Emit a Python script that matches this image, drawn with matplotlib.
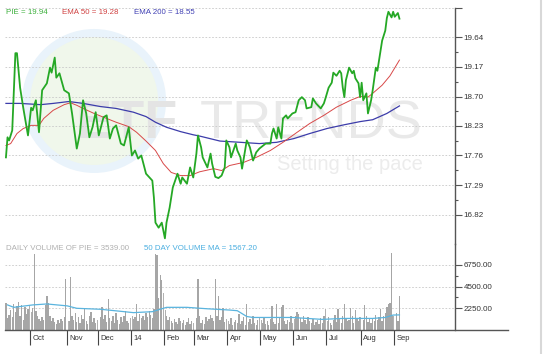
#!/usr/bin/env python3
# -*- coding: utf-8 -*-

import numpy as np
import pandas as pd
import matplotlib
matplotlib.use('Agg')
import matplotlib.pyplot as plt
import matplotlib.transforms as mtransforms
from matplotlib.patches import Ellipse
from matplotlib.lines import Line2D

plt.rcParams['font.family'] = ['Liberation Sans', 'DejaVu Sans']

# Trading calendar (NYSE sessions, Sep 2013 - Sep 2014)
first_session = '2013-09-09'
last_session = '2014-09-05'
holidays = ['2013-11-28', '2013-12-25', '2014-01-01', '2014-01-20', '2014-02-17',
            '2014-04-18', '2014-05-26', '2014-07-04', '2014-09-01']
month_labels = ['Oct', 'Nov', 'Dec', '14', 'Feb', 'Mar', 'Apr', 'May', 'Jun', 'Jul', 'Aug', 'Sep']

# PIE close (session index, price)
price_idx = [0, 1, 2, 4, 6, 7, 9, 11, 14, 16, 17, 19, 21, 23, 26, 28, 29, 31, 32, 34,
             37, 40, 42, 45, 47, 49, 51, 53, 55, 57, 59, 62, 64, 66, 68, 70, 73, 75, 78, 80,
             82, 84, 86, 89, 93, 94, 95, 97, 99, 101, 102, 104, 106, 109, 111, 112, 115, 117, 119, 121,
             122, 124, 125, 128, 130, 131, 133, 135, 137, 139, 140, 142, 143, 146, 147, 149, 150, 153, 154, 155,
             157, 159, 161, 165, 168, 169, 170, 172, 173, 175, 176, 178, 179, 182, 184, 186, 188, 190, 191, 194,
             195, 197, 200, 202, 203, 205, 207, 208, 210, 212, 213, 214, 215, 216, 218, 220, 221, 222, 224, 225,
             226, 227, 229, 230, 232, 233, 235, 236, 238, 239, 241, 242, 243, 245, 246, 247, 249, 250]
price = [17.73, 18.05, 18.00, 18.16, 19.39, 19.39, 18.84, 18.52, 18.08, 18.52, 18.48, 18.64, 18.13, 18.80, 18.91, 19.16, 19.08, 19.32, 19.00, 19.07,
         18.80, 18.75, 18.43, 17.87, 18.11, 18.64, 18.43, 18.05, 18.21, 18.45, 18.08, 18.37, 18.40, 18.03, 18.19, 18.24, 17.95, 17.92, 18.21, 17.76,
         17.84, 17.71, 17.76, 17.47, 17.36, 17.09, 16.69, 16.61, 16.69, 16.44, 16.69, 16.93, 17.25, 17.47, 17.31, 17.41, 17.31, 17.57, 17.41, 17.79,
         18.08, 17.89, 17.73, 17.57, 17.79, 17.63, 17.42, 17.40, 17.44, 17.57, 18.00, 17.89, 17.73, 17.95, 17.84, 17.73, 17.55, 18.00, 17.95, 17.89,
         17.68, 17.81, 17.87, 17.95, 17.95, 18.11, 18.19, 18.03, 18.21, 18.03, 18.35, 18.40, 18.35, 18.43, 18.45, 18.64, 18.69, 18.64, 18.51, 18.53,
         18.67, 18.59, 18.51, 18.59, 18.67, 18.84, 18.92, 19.08, 19.03, 19.11, 19.07, 18.84, 18.69, 18.96, 19.16, 19.07, 19.11, 18.99, 18.91, 18.69,
         18.92, 18.64, 18.75, 18.43, 18.64, 18.80, 19.16, 19.11, 19.43, 19.59, 19.75, 19.95, 20.05, 19.96, 20.05, 19.97, 20.03, 19.94]

# 50 day EMA
ema50_idx = [0, 3, 7, 11, 16, 21, 24, 30, 37, 41, 45, 49, 56, 64, 70, 78, 83, 89, 95, 100,
             105, 111, 117, 123, 132, 137, 142, 151, 159, 168, 176, 185, 193, 202, 210, 219, 225, 230, 233, 239,
             244, 250]
ema50 = [17.92, 17.95, 18.11, 18.19, 18.24, 18.24, 18.35, 18.48, 18.57, 18.60, 18.56, 18.51, 18.43, 18.35, 18.29, 18.22, 18.13, 17.99, 17.84, 17.63,
         17.49, 17.44, 17.44, 17.50, 17.55, 17.52, 17.60, 17.65, 17.73, 17.84, 17.97, 18.13, 18.27, 18.40, 18.53, 18.64, 18.70, 18.69, 18.75, 18.88,
         19.03, 19.28]

# 200 day EMA
ema200_idx = [0, 9, 22, 30, 40, 49, 60, 70, 81, 89, 95, 102, 111, 119, 123, 136, 149, 161, 172, 183,
              193, 204, 215, 225, 233, 242, 250]
ema200 = [18.59, 18.59, 18.57, 18.59, 18.62, 18.59, 18.54, 18.51, 18.45, 18.38, 18.29, 18.21, 18.14, 18.09, 18.07, 17.99, 17.97, 17.95, 17.97, 18.03,
          18.11, 18.19, 18.25, 18.30, 18.33, 18.43, 18.55]

# Daily volume, one list per month
vol_sep13 = [2800, 1200, 1600, 2100, 1300, 2700, 1900, 2500, 2900, 1500, 2600, 1000, 2400, 1700, 2200, 2600]
vol_oct13 = [1900, 2300, 7900, 2000, 1400, 1100, 900, 1300, 1000, 2600, 3500, 2800, 1400, 900, 1200, 800, 600, 1000, 700, 1100, 900, 1300, 5300]
vol_nov13 = [1200, 900, 5500, 1500, 1000, 1800, 800, 1300, 700, 1600, 1100, 2300, 900, 600, 1400, 1900, 800, 1200, 700, 1000]
vol_dec13 = [900, 1300, 2400, 1100, 1600, 800, 3200, 1200, 900, 1500, 700, 1800, 1000, 600, 1300, 800, 1400, 2000, 900, 700, 1200]
vol_jan14 = [1500, 1100, 1300, 2700, 900, 1700, 1200, 1500, 1000, 1800, 1300, 2000, 1600, 1200, 2200, 7900, 7800, 3300, 5700, 5200, 3800]
vol_feb14 = [2100, 1400, 1000, 1300, 900, 700, 1100, 800, 600, 1200, 900, 700, 1000, 500, 800, 1200, 600, 900, 700]
vol_mar14 = [900, 1200, 5300, 1500, 700, 1000, 600, 1300, 900, 1100, 1600, 1200, 900, 5300, 1400, 3500, 1000, 1300, 2300, 800, 1100]
vol_apr14 = [900, 600, 1200, 500, 800, 1000, 700, 1700, 600, 900, 1300, 500, 2700, 800, 1100, 600, 1400, 700, 500, 1000, 1200]
vol_may14 = [1000, 700, 1300, 600, 900, 500, 1100, 2500, 800, 600, 2700, 700, 1200, 2400, 2600, 900, 600, 1000, 800, 1400, 700]
vol_jun14 = [1100, 1500, 1900, 1700, 1200, 800, 1400, 1000, 600, 1300, 900, 700, 1100, 500, 800, 1000, 600, 1200, 700, 1400, 2200]
vol_jul14 = [900, 1300, 700, 500, 1000, 1600, 800, 2200, 1100, 700, 1400, 2700, 1200, 900, 1000, 2300, 1500, 700, 2100, 1200, 900, 1300]
vol_aug14 = [1300, 1000, 2600, 1500, 800, 1200, 700, 1100, 900, 1600, 1000, 1300, 2200, 900, 1400, 1800, 2400, 2700, 2800, 8000, 1500]
vol_sep14 = [1200, 1800, 900, 3539]

# 50 day volume MA
vma_idx = [1, 5, 17, 26, 39, 45, 60, 71, 81, 93, 102, 115, 128, 142, 147, 153, 157, 166, 182, 201,
           214, 233, 241, 246, 250]
vma = [2600, 2350, 2600, 2700, 2500, 2250, 2150, 1970, 1800, 1900, 2350, 2350, 2200, 2070, 2000, 1400, 1300, 1300, 1300, 1100,
       1200, 1200, 1300, 1550, 1567.2]

price_ticks = [19.64, 19.17, 18.70, 18.23, 17.76, 17.29, 16.82]
price_minor = [19.405, 18.935, 18.465, 17.995, 17.525, 17.055]
vol_ticks = [6750, 4500, 2250]
vol_minor = [5625, 3375]


def main():
    W, H = 544, 354
    fig = plt.figure(figsize=(W / 100, H / 100), dpi=100)
    fig.patch.set_facecolor('white')

    sessions = pd.bdate_range(first_session, last_session)
    sessions = sessions[~sessions.isin(pd.to_datetime(holidays))]
    month_pos = [i - 0.5 for i in range(1, len(sessions)) if sessions[i].month != sessions[i - 1].month]

    volume = (vol_sep13 + vol_oct13 + vol_nov13 + vol_dec13 + vol_jan14 + vol_feb14 + vol_mar14
              + vol_apr14 + vol_may14 + vol_jun14 + vol_jul14 + vol_aug14 + vol_sep14)

    left, right = 5, 455
    x_lim = (-0.6, 285.3)
    grid_kw = dict(color='#c8c8c8', lw=0.6, ls=(0, (2, 2)), zorder=1)

    # ---------------- price panel ----------------
    ax = fig.add_axes([left / W, 1 - 244 / H, (right - left) / W, 236 / H])
    ax.set_xlim(*x_lim)
    ax.set_ylim(16.35, 20.11)
    ax.set_facecolor('none')

    # watermark
    ax.add_patch(Ellipse((0.198, 0.606), 144 / 450, 144 / 236, transform=ax.transAxes,
                         facecolor='#e9f3fb', edgecolor='none', zorder=0))
    ax.add_patch(Ellipse((0.198, 0.606), 128 / 450, 128 / 236, transform=ax.transAxes,
                         facecolor='#f0f7eb', edgecolor='none', zorder=0))
    ax.text(0.156, 0.449, 'ETF', transform=ax.transAxes, fontsize=39, fontweight='bold',
            color='#e4e4e4', ha='left', va='baseline', zorder=0)
    ax.text(0.433, 0.449, 'TRENDS', transform=ax.transAxes, fontsize=39,
            color='#e9e9e9', ha='left', va='baseline', zorder=0)
    ax.text(0.604, 0.314, 'Setting the pace', transform=ax.transAxes, fontsize=14.5,
            color='#ececec', ha='left', va='baseline', zorder=0)

    for v in price_ticks + [20.11]:
        ax.axhline(v, **grid_kw)

    ax.plot(ema200_idx, ema200, color='#3c3caa', lw=0.9, zorder=3)
    ax.plot(ema50_idx, ema50, color='#d84848', lw=0.7, zorder=3)
    ax.plot(price_idx, price, color='#25a825', lw=1.3, zorder=4)

    ax.yaxis.tick_right()
    ax.set_yticks(price_ticks + [20.11])
    ax.set_yticklabels(['%.2f' % v for v in price_ticks] + [''])
    ax.set_yticks(price_minor, minor=True)
    ax.set_xticks([])
    for s in ['left', 'top', 'bottom']:
        ax.spines[s].set_visible(False)
    ax.spines['right'].set_color('#555555')
    ax.spines['right'].set_linewidth(1.0)
    ax.tick_params(axis='y', which='major', length=5, width=0.8, color='#555555',
                   labelsize=5.8, labelcolor='#333333', pad=1)
    ax.tick_params(axis='y', which='minor', length=2.2, width=0.8, color='#555555')

    # ---------------- volume panel ----------------
    axv = fig.add_axes([left / W, 1 - 330 / H, (right - left) / W, 86 / H])
    axv.set_xlim(*x_lim)
    axv.set_ylim(0, 8918)
    axv.set_facecolor('none')

    for v in vol_ticks:
        axv.axhline(v, **grid_kw)
    axv.bar(np.arange(len(volume)), volume, width=0.85, color='#a6a6a6', edgecolor='none', zorder=2)
    for p in month_pos:
        axv.axvline(p, color='white', lw=0.9, zorder=3)
    axv.plot(vma_idx, vma, color='#5ab4de', lw=0.9, zorder=4)

    axv.yaxis.tick_right()
    axv.set_yticks(vol_ticks)
    axv.set_yticklabels(['%.2f' % v for v in vol_ticks])
    axv.set_yticks(vol_minor, minor=True)
    for s in ['left', 'top', 'bottom']:
        axv.spines[s].set_visible(False)
    axv.spines['right'].set_color('#555555')
    axv.spines['right'].set_linewidth(1.0)
    axv.tick_params(axis='y', which='major', length=5, width=0.8, color='#555555',
                    labelsize=5.8, labelcolor='#333333', pad=1)
    axv.tick_params(axis='y', which='minor', length=2.2, width=0.8, color='#555555')

    # month ticks and labels below the volume panel
    axv.set_xticks(month_pos)
    axv.set_xticklabels([])
    axv.tick_params(axis='x', length=10.5, width=0.8, color='#444444', direction='out')
    trans = mtransforms.offset_copy(
        mtransforms.blended_transform_factory(axv.transData, axv.transAxes),
        fig=fig, x=1.8, y=-5.8, units='points')
    for p, lab in zip(month_pos, month_labels):
        axv.text(p, 0, lab, transform=trans, fontsize=5.5, color='#333333',
                 ha='left', va='center')

    # long bottom rule and page border
    fig.add_artist(Line2D([left / W, 508 / W], [1 - 330 / H, 1 - 330 / H],
                          color='#555555', lw=1.0, transform=fig.transFigure))
    fig.add_artist(Line2D([541 / W, 541 / W], [0, 1], color='#d8d8d8', lw=1.5,
                          transform=fig.transFigure))

    # header texts
    fig.text(6 / W, 1 - 13 / H, 'PIE = 19.94', color='#3cb03c', fontsize=5.7, va='center')
    fig.text(61.5 / W, 1 - 13 / H, 'EMA 50 = 19.28', color='#d04040', fontsize=5.7, va='center')
    fig.text(134 / W, 1 - 13 / H, 'EMA 200 = 18.55', color='#4040b4', fontsize=5.7, va='center')
    fig.text(6.5 / W, 1 - 249 / H, 'DAILY VOLUME OF PIE = 3539.00', color='#b0b0b0', fontsize=5.7, va='center')
    fig.text(144 / W, 1 - 249 / H, '50 DAY VOLUME MA = 1567.20', color='#4aaee0', fontsize=5.7, va='center')

    plt.savefig('out.png', dpi=100)


if __name__ == "__main__":
    main()
